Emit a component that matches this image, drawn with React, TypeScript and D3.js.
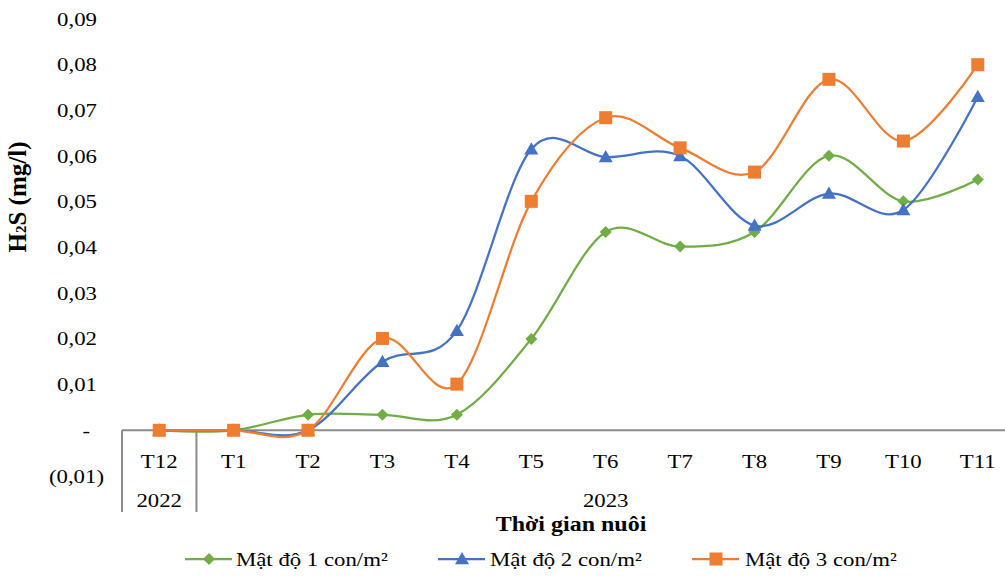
import React from "react";
import * as d3 from "d3";

const categories = ["T12", "T1", "T2", "T3", "T4", "T5", "T6", "T7", "T8", "T9", "T10", "T11"];
const yearGroups = [
  { label: "2022", from: 0, to: 0 },
  { label: "2023", from: 1, to: 11 },
];
const density1 = [0, 0, 0.0034, 0.0034, 0.0034, 0.02, 0.0434, 0.0402, 0.0434, 0.0601, 0.0501, 0.0549];
const density2 = [0, 0, 0, 0.015, 0.0218, 0.0615, 0.0598, 0.06, 0.0448, 0.0518, 0.0482, 0.073];
const density3 = [0, 0, 0, 0.0201, 0.0101, 0.0501, 0.0684, 0.0618, 0.0565, 0.0768, 0.0633, 0.08];
const yTicks = [-0.01, 0, 0.01, 0.02, 0.03, 0.04, 0.05, 0.06, 0.07, 0.08, 0.09];
const seriesNames = ["Mật độ 1 con/m²", "Mật độ 2 con/m²", "Mật độ 3 con/m²"];

const W = 1005;
const H = 576;
const FONT = "'Liberation Serif', 'Times New Roman', serif";
const AXIS = "#8c8c8c";
const SX = 1.2;

const series = [
  { name: seriesNames[0], values: density1, color: "#70AD47", marker: "diamond" },
  { name: seriesNames[1], values: density2, color: "#4472C4", marker: "triangle" },
  { name: seriesNames[2], values: density3, color: "#ED7D31", marker: "square" },
];

function fmt(v: number) {
  if (Math.abs(v) < 1e-9) return "-";
  const s = Math.abs(v).toFixed(2).replace(".", ",");
  return v < 0 ? `(${s})` : s;
}

function SText({
  x,
  y,
  anchor = "start",
  size = 19,
  bold = false,
  children,
}: {
  x: number;
  y: number;
  anchor?: string;
  size?: number;
  bold?: boolean;
  children: React.ReactNode;
}) {
  return (
    <text
      transform={`translate(${x},${y}) scale(${SX},1)`}
      textAnchor={anchor}
      fontSize={size}
      fontWeight={bold ? "bold" : "normal"}
      fill="#000"
    >
      {children}
    </text>
  );
}

function Marker({ type, x, y, color }: { type: string; x: number; y: number; color: string }) {
  if (type === "diamond") {
    const r = 6;
    return <path d={`M${x},${y - r}L${x + r},${y}L${x},${y + r}L${x - r},${y}Z`} fill={color} />;
  }
  if (type === "triangle") {
    const r = 7;
    return <path d={`M${x},${y - r}L${x + r},${y + r * 0.75}L${x - r},${y + r * 0.75}Z`} fill={color} />;
  }
  const s = 6.5;
  return <rect x={x - s} y={y - s} width={2 * s} height={2 * s} fill={color} />;
}

export default function App() {
  const x = d3.scaleBand<string>().domain(categories).range([122, 1015]).padding(0);
  const bw = x.bandwidth();
  const cx = (c: string) => (x(c) as number) + bw / 2;
  const y = d3.scaleLinear().domain([-0.01, 0.09]).range([476, 19]);
  const line = d3
    .line<number>()
    .x((_, i) => cx(categories[i]))
    .y((d) => y(d))
    .curve(d3.curveCardinal.tension(0));

  const legendItems = [
    { lx: 185, tx: 236 },
    { lx: 438, tx: 490 },
    { lx: 692, tx: 745 },
  ];

  return (
    <svg width={W} height={H} style={{ position: "absolute", left: 0, top: 0 }} fontFamily={FONT}>
      <rect width={W} height={H} fill="#fff" />
      {/* y tick labels */}
      {yTicks.map((t) => (
        <SText
          key={t}
          x={t < 0 ? 104 : Math.abs(t) < 1e-9 ? 90 : 97}
          y={y(t) + 6.5}
          anchor="end"
        >
          {fmt(t)}
        </SText>
      ))}
      {/* y title */}
      <text
        transform={`translate(26,197) rotate(-90)`}
        textAnchor="middle"
        fontSize={25}
        fontWeight="bold"
        fill="#000"
      >
        H<tspan fontSize={15}>2</tspan>S (mg/l)
      </text>
      {/* x axis line */}
      <line x1={122} x2={W} y1={y(0)} y2={y(0)} stroke={AXIS} strokeWidth={2} />
      {/* group separators */}
      {[0, 1].map((i) => (
        <line
          key={i}
          x1={x(categories[i]) as number}
          x2={x(categories[i]) as number}
          y1={y(0)}
          y2={512}
          stroke={AXIS}
          strokeWidth={2}
        />
      ))}
      {/* category labels */}
      {categories.map((c) => (
        <SText key={c} x={cx(c)} y={468} anchor="middle">
          {c}
        </SText>
      ))}
      {/* year labels */}
      {yearGroups.map((g) => (
        <SText
          key={g.label}
          x={((x(categories[g.from]) as number) + (x(categories[g.to]) as number) + bw) / 2}
          y={507}
          anchor="middle"
        >
          {g.label}
        </SText>
      ))}
      {/* x title */}
      <SText x={571} y={531} anchor="middle" size={20} bold>
        Thời gian nuôi
      </SText>
      {/* series */}
      {series.map((s) => (
        <g key={s.name}>
          <path d={line(s.values) as string} fill="none" stroke={s.color} strokeWidth={2.25} />
          {s.values.map((v, i) => (
            <Marker key={i} type={s.marker} x={cx(categories[i])} y={y(v)} color={s.color} />
          ))}
        </g>
      ))}
      {/* legend */}
      {series.map((s, i) => {
        const it = legendItems[i];
        return (
          <g key={s.name}>
            <line x1={it.lx} x2={it.lx + 47} y1={559} y2={559} stroke={s.color} strokeWidth={2.25} />
            <Marker type={s.marker} x={it.lx + 24} y={559} color={s.color} />
            <SText x={it.tx} y={566}>
              {s.name}
            </SText>
          </g>
        );
      })}
    </svg>
  );
}
